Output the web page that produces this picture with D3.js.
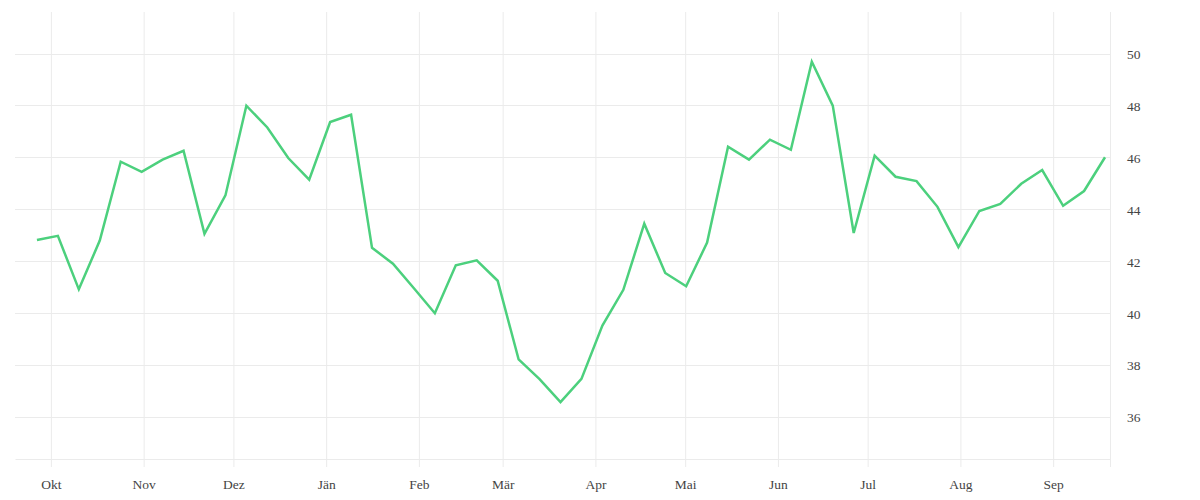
<!DOCTYPE html>
<html>
<head>
<meta charset="utf-8">
<script src="https://cdn.jsdelivr.net/npm/d3@7"></script>
<style>
	body { margin: 0; background: #fff; }
	.tick text { font-family: "Liberation Serif", serif; font-size: 13.5px; fill: #444; }
</style>
</head>
<body>
<div id="chartDiv"></div>
<script>
; (function () {

	var width = 1200;
	var height = 500;
	var plot = { left: 15, right: 1110, top: 12, bottom: 459 };

	// weekly series, first week starting 2021-09-26
	var startDate = "2021-09-26";
	var values = [
		42.81, 42.97, 40.91, 42.79, 45.83, 45.44, 45.91, 46.25, 43.05, 44.53,
		47.99, 47.15, 45.97, 45.14, 47.36, 47.64, 42.51, 41.90, 40.95, 39.99,
		41.84, 42.03, 41.24, 38.21, 37.45, 36.56, 37.46, 39.51, 40.89, 43.44,
		41.54, 41.03, 42.71, 46.41, 45.91, 46.68, 46.29, 49.68, 47.99, 43.08,
		46.06, 45.25, 45.08, 44.09, 42.54, 43.93, 44.20, 44.98, 45.51, 44.13,
		44.70, 46.00
	];
	var monthLabels = ["Jän", "Feb", "Mär", "Apr", "Mai", "Jun", "Jul", "Aug", "Sep", "Okt", "Nov", "Dez"];
	var yTicks = [36, 38, 40, 42, 44, 46, 48, 50];
	var xDomain = ["2021-09-19", "2022-09-20"];
	var yDomain = [34.37, 51.6];

	var parse = d3.timeParse("%Y-%m-%d");
	var start = parse(startDate);
	var data = values.map(function (v, i) {
		return { date: d3.timeHour.offset(d3.timeDay.offset(start, i * 7), 8), value: v };
	});

	var svg = d3.select("#chartDiv").append("svg")
		.attr("width", width)
		.attr("height", height);

	var x = d3.scaleTime()
		.domain(xDomain.map(parse))
		.range([plot.left, plot.right]);

	var y = d3.scaleLinear()
		.domain(yDomain)
		.range([plot.bottom, plot.top]);

	// horizontal grid
	svg.append("g")
		.selectAll("line")
		.data(yTicks)
		.join("line")
		.attr("x1", plot.left)
		.attr("x2", plot.right)
		.attr("y1", function (d) { return Math.round(y(d)) + 0.5; })
		.attr("y2", function (d) { return Math.round(y(d)) + 0.5; })
		.attr("stroke", "#ebebeb");

	// x axis with month ticks reaching the top
	var xAxis = d3.axisBottom(x)
		.ticks(d3.timeMonth.every(1))
		.tickFormat(function (d) { return monthLabels[d.getMonth()]; })
		.tickSizeInner(-(plot.bottom - plot.top))
		.tickSizeOuter(0)
		.tickPadding(20);

	var gx = svg.append("g")
		.attr("transform", "translate(0," + plot.bottom + ")")
		.call(xAxis);
	gx.select(".domain").attr("stroke", "#ebebeb");
	gx.selectAll(".tick line")
		.attr("stroke", "#ebebeb")
		.attr("y2", 8)
		.attr("y1", -(plot.bottom - plot.top));

	// y axis on the right
	var yAxis = d3.axisRight(y)
		.tickValues(yTicks)
		.tickSize(0)
		.tickPadding(17);

	var gy = svg.append("g")
		.attr("transform", "translate(" + plot.right + ",0)")
		.call(yAxis);
	gy.select(".domain").remove();
	gy.selectAll(".tick text").attr("dy", "0.38em");

	svg.append("line")
		.attr("x1", plot.right + 0.5)
		.attr("x2", plot.right + 0.5)
		.attr("y1", plot.top)
		.attr("y2", plot.bottom + 8)
		.attr("stroke", "#ebebeb");

	var line = d3.line()
		.x(function (d) { return x(d.date); })
		.y(function (d) { return y(d.value); });

	svg.append("path")
		.datum(data)
		.attr("fill", "none")
		.attr("stroke", "#4cd07d")
		.attr("stroke-width", 2.5)
		.attr("stroke-linejoin", "miter")
		.attr("d", line);

})();
</script>
</body>
</html>
